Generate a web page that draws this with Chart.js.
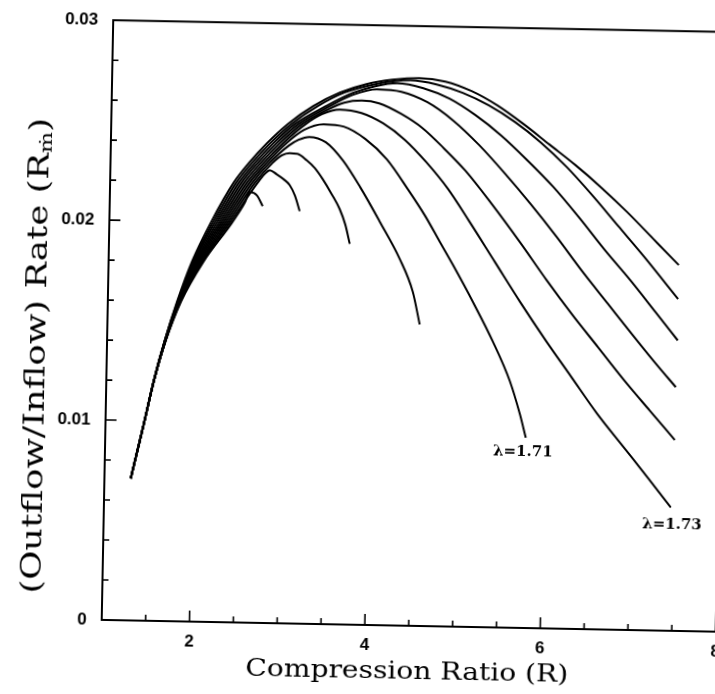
<!DOCTYPE html>
<html><head><meta charset="utf-8">
<script src="https://cdn.jsdelivr.net/npm/chart.js@4.4.1/dist/chart.umd.min.js"></script>
<style>
html,body{margin:0;padding:0;background:#fff;overflow:hidden;width:715px;height:694px;}
#wrap{position:absolute;left:0;top:0;width:740px;height:694px;transform:rotate(1.1deg);transform-origin:370px 347px;}
canvas{display:block;}
</style></head><body>
<div id="wrap"><canvas id="c" width="740" height="694"></canvas></div>
<script>
// ---- data (x = compression ratio R, y = outflow/inflow rate) ----
const curveA = [[1.30,0.0071],[1.445,0.0100],[1.543,0.0120],[1.667,0.0140],[1.835,0.0160],[2.08,0.0180],[2.40,0.0200],[2.54,0.0210],[2.593,0.02153],[2.674,0.02139],[2.744,0.02085]];
const curveB = [[1.30,0.0071],[1.445,0.0100],[1.543,0.0120],[1.666,0.0140],[1.831,0.0160],[2.067,0.0180],[2.376,0.0200],[2.68,0.0220],[2.76,0.02245],[2.817,0.02265],[2.897,0.02245],[2.98,0.0222],[3.048,0.02192],[3.11,0.0214],[3.167,0.02063]];
const curveC = [[1.30,0.0071],[1.445,0.0100],[1.542,0.0120],[1.665,0.0140],[1.826,0.0160],[2.054,0.0180],[2.352,0.0200],[2.65,0.0220],[2.844,0.0230],[2.95,0.0234],[3.04,0.02352],[3.13,0.0235],[3.236,0.02318],[3.33,0.0228],[3.423,0.02225],[3.53,0.0215],[3.623,0.02077],[3.69,0.0200],[3.745,0.01904]];
const curveD = [[1.30,0.0071],[1.445,0.0100],[1.542,0.0120],[1.663,0.0140],[1.822,0.0160],[2.041,0.0180],[2.328,0.0200],[2.62,0.0220],[2.81,0.0230],[3.03,0.0239],[3.14,0.0242],[3.26,0.02435],[3.45,0.0241],[3.65,0.0232],[3.85,0.0219],[4.08,0.0202],[4.318,0.01834],[4.474,0.01671],[4.56,0.01508]];
const curveE = [[1.30,0.0071],[1.445,0.0100],[1.542,0.0120],[1.662,0.0140],[1.817,0.0160],[2.028,0.0180],[2.304,0.0200],[2.59,0.0220],[2.778,0.0230],[2.996,0.0240],[3.2,0.0247],[3.42,0.0250],[3.65,0.0249],[3.9,0.0243],[4.15,0.0233],[4.4,0.0218],[4.6,0.0205],[4.771,0.01923],[4.924,0.0181],[5.16,0.01627],[5.397,0.0143],[5.6,0.01233],[5.721,0.0107],[5.794,0.00951]];
const curveF = [[1.30,0.0071],[1.445,0.0100],[1.542,0.0120],[1.661,0.0140],[1.813,0.0160],[2.015,0.0180],[2.28,0.0200],[2.56,0.0220],[2.745,0.0230],[2.96,0.0240],[3.22,0.0250],[3.4,0.0255],[3.6,0.02575],[3.85,0.0256],[4.1,0.0251],[4.35,0.0243],[4.6,0.0232],[4.85,0.0219],[5.1,0.0203],[5.4,0.0183],[5.7,0.0163],[6.0,0.0144],[6.3,0.0126],[6.6,0.0108],[6.9,0.0092],[7.2,0.0076],[7.462,0.00617]];
const curveG = [[1.30,0.0071],[1.445,0.0100],[1.541,0.0120],[1.660,0.0140],[1.808,0.0160],[2.002,0.0180],[2.256,0.0200],[2.53,0.0220],[2.712,0.0230],[2.924,0.0240],[3.18,0.0250],[3.45,0.0257],[3.65,0.0261],[3.85,0.02622],[4.05,0.0261],[4.3,0.0256],[4.55,0.0249],[4.8,0.0239],[5.05,0.0228],[5.35,0.0212],[5.683,0.0193],[6.0,0.0174],[6.3,0.0157],[6.6,0.0141],[6.9,0.0125],[7.2,0.0110],[7.493,0.00955]];
const curveH = [[1.30,0.0071],[1.445,0.0100],[1.541,0.0120],[1.659,0.0140],[1.804,0.0160],[1.989,0.0180],[2.232,0.0200],[2.50,0.0220],[2.679,0.0230],[2.888,0.0240],[3.14,0.0250],[3.485,0.0259],[3.75,0.0265],[4.02,0.0268],[4.3,0.0267],[4.6,0.0262],[4.9,0.0253],[5.2,0.0241],[5.5,0.0227],[5.8,0.0212],[6.1,0.0196],[6.4,0.0179],[6.7,0.0163],[7.0,0.0147],[7.25,0.0134],[7.493,0.01219]];
const curveI = [[1.30,0.0071],[1.445,0.0100],[1.541,0.0120],[1.657,0.0140],[1.799,0.0160],[1.976,0.0180],[2.208,0.0200],[2.47,0.0220],[2.646,0.0230],[2.852,0.0240],[3.10,0.0250],[3.44,0.0259],[3.75,0.0266],[4.0,0.02695],[4.25,0.02712],[4.55,0.0269],[4.85,0.0264],[5.15,0.0256],[5.45,0.0246],[5.75,0.0234],[6.05,0.0221],[6.35,0.0206],[6.65,0.0190],[6.95,0.0175],[7.25,0.0159],[7.505,0.01453]];
const curveJ = [[1.30,0.0071],[1.445,0.0100],[1.540,0.0120],[1.656,0.0140],[1.795,0.0160],[1.963,0.0180],[2.184,0.0200],[2.44,0.0220],[2.613,0.0230],[2.816,0.0240],[3.06,0.0250],[3.35,0.0259],[3.65,0.0266],[4.0,0.02705],[4.4,0.02728],[4.7,0.0271],[5.0,0.0267],[5.3,0.0261],[5.6,0.0253],[5.9,0.0243],[6.2,0.0231],[6.5,0.0217],[6.8,0.0202],[7.1,0.0187],[7.5,0.0166]];
const curveK = [[1.30,0.0071],[1.445,0.0100],[1.54,0.0120],[1.655,0.0140],[1.79,0.0160],[1.95,0.0180],[2.16,0.0200],[2.41,0.0220],[2.58,0.0230],[2.78,0.0240],[3.02,0.0250],[3.3,0.0259],[3.6,0.0266],[3.9,0.02705],[4.2,0.0273],[4.5,0.0274],[4.8,0.02725],[5.1,0.0268],[5.4,0.0261],[5.7,0.0252],[6.0,0.0242],[6.3,0.0232],[6.6,0.0221],[6.9,0.0209],[7.2,0.0196],[7.5,0.0183]];
const curves = [curveA, curveB, curveC, curveD, curveE, curveF, curveG, curveH, curveI, curveJ, curveK];

const xLabelTicks = [2, 4, 6, 8];
const xMarkTicks = [1.5, 2, 2.5, 3, 3.5, 4, 4.5, 5, 5.5, 6, 6.5, 7, 7.5];
const yLabelTicks = [0, 0.01, 0.02, 0.03];
const yMarkTicks = [0.002, 0.004, 0.006, 0.008, 0.01, 0.012, 0.014, 0.016, 0.018, 0.02, 0.022, 0.024, 0.026, 0.028];
const curveLabels = [{text: 'λ=1.71', x: 5.763, y: 0.00881}, {text: 'λ=1.73', x: 7.478, y: 0.00532}];
const xTitle = 'Compression Ratio (R)';
const yTitleMain = '(Outflow/Inflow) Rate (R';
const yTitleSub = 'ṁ';
const yTitleEnd = ')';

const isMajor = (v, step) => Math.abs(v / step - Math.round(v / step)) < 1e-6;

const deco = {
  id: 'deco',
  afterDraw(chart) {
    const {ctx, chartArea: a, scales: {x, y}} = chart;
    ctx.save();
    ctx.strokeStyle = '#000';
    ctx.fillStyle = '#000';
    ctx.lineWidth = 2;
    ctx.strokeRect(a.left, a.top, a.right - a.left, a.bottom - a.top);
    ctx.lineWidth = 1.6;
    ctx.beginPath();
    for (const v of xMarkTicks) {
      const px = x.getPixelForValue(v);
      const len = isMajor(v, 2) ? 11 : 6;
      ctx.moveTo(px, a.bottom); ctx.lineTo(px, a.bottom - len);
    }
    for (const v of yMarkTicks) {
      const py = y.getPixelForValue(v);
      const len = isMajor(v, 0.01) ? 11 : 6;
      ctx.moveTo(a.left, py); ctx.lineTo(a.left + len, py);
    }
    ctx.stroke();

    // curve labels
    ctx.font = 'bold 15px "DejaVu Serif"';
    ctx.textAlign = 'center'; ctx.textBaseline = 'middle';
    for (const l of curveLabels) ctx.fillText(l.text, x.getPixelForValue(l.x), y.getPixelForValue(l.y));

    // x title
    ctx.font = '25px "DejaVu Serif"';
    const w = ctx.measureText(xTitle).width;
    ctx.save();
    ctx.translate((a.left + a.right) / 2 - 1, 671);
    ctx.scale(323 / w, 1);
    ctx.textAlign = 'center'; ctx.textBaseline = 'middle';
    ctx.fillText(xTitle, 0, 0);
    ctx.restore();

    // y title
    ctx.save();
    ctx.translate(38, (a.top + a.bottom) / 2 + 37);
    ctx.rotate(-Math.PI / 2);
    const big = '27px "DejaVu Serif"', small = '17px "DejaVu Serif"';
    ctx.font = big;
    const wm = ctx.measureText(yTitleMain).width;
    const we = ctx.measureText(yTitleEnd).width;
    ctx.font = small;
    const ws = ctx.measureText(yTitleSub).width;
    const total = wm + ws + we;
    ctx.scale(476 / total, 1);
    ctx.textAlign = 'left'; ctx.textBaseline = 'middle';
    let cx = -total / 2;
    ctx.font = big;
    ctx.fillText(yTitleMain, cx, 0); cx += wm;
    ctx.font = small;
    ctx.fillText(yTitleSub, cx, 6); cx += ws;
    ctx.font = big;
    ctx.fillText(yTitleEnd, cx, 0);
    ctx.restore();
    ctx.restore();
  }
};

new Chart(document.getElementById('c'), {
  type: 'line',
  data: {
    datasets: curves.map((c, i) => ({
      label: 'curve ' + (i + 1),
      data: c.map(p => ({x: p[0], y: p[1]})),
      borderColor: '#000',
      borderWidth: 2,
      pointRadius: 0,
      fill: false,
      cubicInterpolationMode: 'monotone'
    }))
  },
  options: {
    responsive: false,
    animation: false,
    events: [],
    layout: {padding: {top: 22, right: 19, left: 0, bottom: 0}},
    plugins: {legend: {display: false}, tooltip: {enabled: false}},
    scales: {
      x: {
        type: 'linear', min: 1, max: 8,
        grid: {display: false, drawTicks: false},
        border: {display: false},
        afterBuildTicks: s => { s.ticks = xLabelTicks.map(v => ({value: v})); },
        afterFit: s => { s.height = 69; },
        ticks: {padding: 10, color: '#000', font: {family: 'Liberation Sans', size: 17, weight: 'bold'}, callback: v => String(v), maxRotation: 0}
      },
      y: {
        type: 'linear', min: 0, max: 0.03,
        grid: {display: false, drawTicks: false},
        border: {display: false},
        afterBuildTicks: s => { s.ticks = yLabelTicks.map(v => ({value: v})); },
        afterFit: s => { s.width = 107; },
        ticks: {padding: 15, color: '#000', font: {family: 'Liberation Sans', size: 17, weight: 'bold'}, callback: v => (v === 0 ? '0' : v.toFixed(2))}
      }
    }
  },
  plugins: [deco]
});
</script>
</body></html>
